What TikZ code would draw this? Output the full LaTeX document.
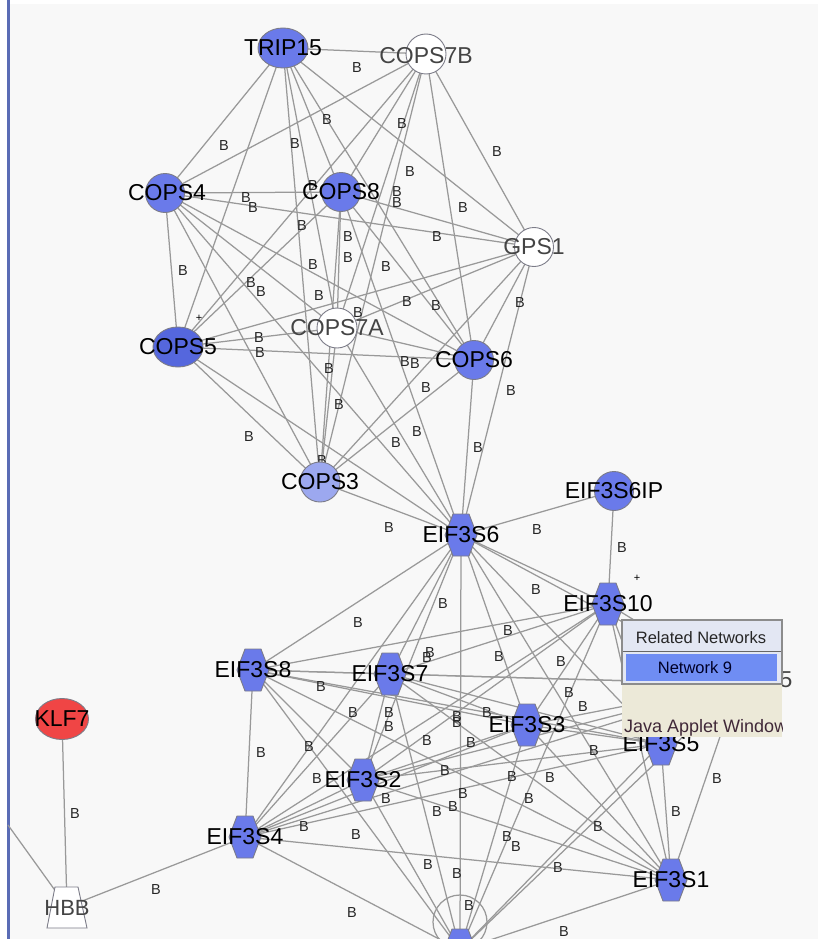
\documentclass[tikz,border=0pt]{standalone}
\usepackage{fontspec}
\setmainfont{Liberation Sans}
\usetikzlibrary{shapes.geometric,calc}
\pgfdeclarelayer{bg}
\pgfdeclarelayer{edges}
\pgfdeclarelayer{blab}
\pgfdeclarelayer{top}
\pgfsetlayers{bg,edges,blab,main,top}
\definecolor{nb}{HTML}{6A7AEA}
\definecolor{nbd}{HTML}{5567DD}
\definecolor{nbl}{HTML}{9CA8EF}
\definecolor{nred}{HTML}{F04545}
\definecolor{eg}{HTML}{999999}
\definecolor{nbord}{HTML}{7C7C88}
\definecolor{bgc}{HTML}{F8F8F8}
\definecolor{framec}{HTML}{5A6CB5}
\definecolor{graytxt}{HTML}{444444}
\definecolor{poptitle}{HTML}{E3E7F3}
\definecolor{popsel}{HTML}{6F8DF3}
\definecolor{popbeige}{HTML}{ECE9D8}
\definecolor{javatxt}{HTML}{402838}
\newcommand{\hexat}[1]{\filldraw[hexsty] ([xshift=-16pt]#1.center) -- ([xshift=-8pt,yshift=21pt]#1.center) -- ([xshift=8pt,yshift=21pt]#1.center) -- ([xshift=16pt]#1.center) -- ([xshift=8pt,yshift=-21pt]#1.center) -- ([xshift=-8pt,yshift=-21pt]#1.center) -- cycle;}
\begin{document}
\begin{tikzpicture}[x=1pt,y=-1pt,
  lnk/.style={draw=eg, line width=1.25pt},
  bl/.style={text=black!85, inner sep=0pt, font=\fontsize{14.5pt}{15pt}\selectfont},
  nl/.style={text=black, inner sep=0pt, font=\fontsize{23pt}{25pt}\selectfont},
  gl/.style={nl, text=graytxt},
  bn/.style={draw=nbord, line width=0.9pt, fill=nb, inner sep=0pt},
  wn/.style={draw=nbord, line width=0.9pt, fill=white, inner sep=0pt},
  hx/.style={rectangle, minimum width=32pt, minimum height=42pt, inner sep=0pt},
  hexsty/.style={draw=nbord, line width=0.9pt, fill=nb}]
\useasboundingbox (0,0) rectangle (821,939);
\clip (0,0) rectangle (821,939);
\begin{pgfonlayer}{bg}
\fill[white] (0,0) rectangle (821,939);
\fill[bgc] (9,4) rectangle (818,939);
\draw[framec, line width=3pt] (8.5,0) -- (8.5,939);
\end{pgfonlayer}

% nodes (shapes)
\node[bn, ellipse, minimum width=50pt, minimum height=40pt] (T) at (283,48) {};
\node[wn, circle, minimum size=40pt] (B7) at (426,54) {};
\node[bn, circle, minimum size=39pt] (C4) at (165,193) {};
\node[bn, circle, minimum size=39pt] (C8) at (341,192) {};
\node[wn, circle, minimum size=39pt] (G) at (534,247) {};
\node[wn, circle, minimum size=40pt] (A7) at (337,328) {};
\node[bn, ellipse, fill=nbd, minimum width=50pt, minimum height=40pt] (C5) at (178,347) {};
\node[bn, circle, minimum size=39pt] (C6) at (474,360) {};
\node[bn, circle, fill=nbl, minimum size=40pt] (C3) at (320,482) {};
\node[bn, circle, minimum size=39pt] (IP) at (614,491) {};
\node[bn, ellipse, fill=nred, minimum width=53pt, minimum height=41pt] (KLF) at (62,719) {};
\node[hx] (E6) at (461,535) {};
\node[hx] (E10) at (608,604) {};
\node[hx] (E8) at (253,670) {};
\node[hx] (E7) at (390,674) {};
\node[hx] (E3) at (527,725) {};
\node[hx] (E5) at (661,744) {};
\node[hx] (E2) at (363,780) {};
\node[hx] (E4) at (245,837) {};
\node[hx] (E1) at (671,880) {};
\node[hx] (EB) at (460,950) {};
\node[rectangle, minimum width=40pt, minimum height=41pt, inner sep=0pt] (HBB) at (67,907) {};
\coordinate (HID) at (738,684);
\coordinate (offl) at (8,825);
\foreach \h in {E6,E10,E8,E7,E3,E5,E2,E4,E1,EB} {\hexat{\h}}
\filldraw[wn] ([xshift=-20pt,yshift=-21pt]HBB.center) -- ([xshift=20pt,yshift=-21pt]HBB.center) -- ([xshift=11pt,yshift=20pt]HBB.center) -- ([xshift=-12pt,yshift=20pt]HBB.center) -- cycle;

% edges
\begin{pgfonlayer}{edges}
\foreach \a/\b in {T/B7,T/C4,T/C8,T/G,T/A7,T/C5,T/C6,T/C3,
  B7/C4,B7/C8,B7/G,B7/A7,B7/C5,B7/C6,B7/C3,
  C4/C8,C4/G,C4/A7,C4/C5,C4/C6,C4/C3,
  C8/G,C8/A7,C8/C5,C8/C6,C8/C3,
  G/A7,G/C5,G/C6,G/C3,
  A7/C5,A7/C6,A7/C3,
  C5/C6,C5/C3,C6/C3,
  E6/C6,E6/G,E6/C3,E6/A7,E6/C5,E6/C4,E6/C8,
  E6/IP,IP/E10,E4/HBB,KLF/HBB,offl/HBB}
  {\draw[lnk] (\a.center) -- (\b.center);}
\foreach [count=\i] \a in {E6,E10,E8,E7,E3,E5,E2,E4,E1,EB,HID}{
  \foreach [count=\j] \b in {E6,E10,E8,E7,E3,E5,E2,E4,E1,EB,HID}{
    \ifnum\j>\i \draw[lnk] (\a.center) -- (\b.center);\fi}}
\draw[lnk] ([yshift=28pt]EB.center) circle[radius=27pt];
\end{pgfonlayer}

% edge labels
\begin{pgfonlayer}{blab}
\foreach [count=\k] \p in {(357,68),(224,146),(295,144),(327,120),(402,124),(410,172),(497,152),(246,198),(253,208),(313,186),(397,192),(397,203),(463,208),(302,226),(348,237),(437,237),(348,258),(386,267),(313,265),(183,271),(251,283),(261,292),(319,296),(407,302),(436,306),(520,303),(358,313),(259,338),(260,353),(405,362),(415,364),(329,369),(426,388),(511,391),(339,405),(417,432),(396,443),(478,448),(249,437),(389,528),(322,461),
(537,530),(622,548),(536,590),(443,604),(358,623),(508,631),(499,657),(430,653),(427,658),(561,662),(321,687),(569,693),(583,707),(487,713),(457,717),(457,723),(353,713),(389,713),(389,727),(427,741),(471,743),(594,751),(309,747),(261,753),(445,771),(512,777),(550,778),(717,779),(317,779),(386,799),(463,794),(453,807),(437,812),(529,799),(676,812),(304,827),(356,835),(598,827),(507,837),(516,847),(428,865),(457,874),(558,868),(469,906),(564,932),(352,913),(75,814),(156,890)}
  {\node[bl] (lab\k) at \p {B};}
\end{pgfonlayer}

% node labels
\node[nl] (Tl) at (T) {TRIP15};
\node[gl] (B7l) at (426,56) {COPS7B};
\node[nl] (C4l) at (167,193) {COPS4};
\node[nl] (C8l) at (C8) {COPS8};
\node[gl] (Gl) at (G) {GPS1};
\node[gl] (A7l) at (A7) {COPS7A};
\node[nl] (C5l) at (C5) {COPS5};
\node[nl] (C6l) at (C6) {COPS6};
\node[nl] (C3l) at (C3) {COPS3};
\node[nl] (IPl) at (IP) {EIF3S6IP};
\node[nl] (KLFl) at (KLF) {KLF7};
\node[nl] (E6l) at (E6) {EIF3S6};
\node[nl] (E10l) at (E10) {EIF3S10};
\node[nl] (E8l) at (E8) {EIF3S8};
\node[nl] (E7l) at (E7) {EIF3S7};
\node[nl] (E3l) at (E3) {EIF3S3};
\node[nl] (E5l) at (E5) {EIF3S5};
\node[nl] (E2l) at (E2) {EIF3S2};
\node[nl] (E4l) at (E4) {EIF3S4};
\node[nl] (E1l) at (E1) {EIF3S1};
\node[gl, font=\fontsize{22pt}{24pt}\selectfont] (HBBl) at (67,908) {HBB};
\node[gl] (fivel) at (786,680) {5};
\node[inner sep=0pt, font=\fontsize{11pt}{12pt}\selectfont] (plus1) at (199,318) {+};
\node[inner sep=0pt, font=\fontsize{11pt}{12pt}\selectfont] (plus2) at (637,578) {+};

% popup
\begin{pgfonlayer}{top}
\fill[poptitle] (622,620) rectangle (782,684);
\fill[popbeige] (622,684) rectangle (782,737);
\draw[black!60, line width=1pt] (622,651.5) -- (782,651.5);
\fill[popsel] (626,654) rectangle (777,681);
\draw[black!45, line width=1.5pt] (622,620) rectangle (782,684);
\node[inner sep=0pt, text=black!85, font=\fontsize{16.5pt}{18pt}\selectfont] (pop1) at (701,638) {Related Networks};
\node[inner sep=0pt, text=black!85!blue, font=\fontsize{16.5pt}{18pt}\selectfont] (pop2) at (695,668) {Network 9};
\begin{scope}
\clip (622,684) rectangle (782,737);
\node[anchor=base west, inner sep=0pt, text=javatxt, font=\fontsize{18pt}{20pt}\selectfont] (pop3) at (624,732) {Java Applet Window};
\end{scope}
\end{pgfonlayer}
\end{tikzpicture}
\end{document}
